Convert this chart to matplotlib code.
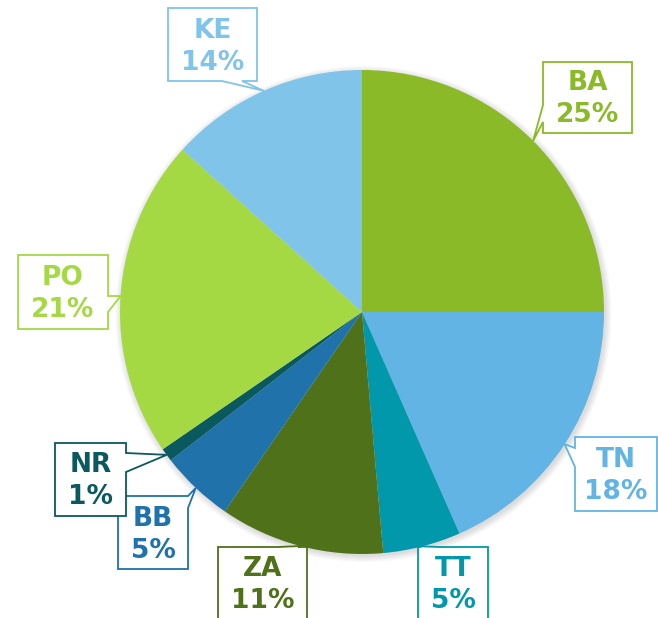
import matplotlib.pyplot as plt
from matplotlib.patches import Polygon, Circle
import numpy as np

W, H = 658, 618

labels = ["BA", "TN", "TT", "ZA", "BB", "NR", "PO", "KE"]
shares = [25.0, 18.4, 5.2, 11.0, 4.9, 0.9, 21.3, 13.3]
pct_text = ["25%", "18%", "5%", "11%", "5%", "1%", "21%", "14%"]
colors = ["#8aba28", "#62b4e4", "#0098aa", "#4f7119", "#1f72aa",
          "#09595e", "#a4d944", "#80c4ea"]

# callout boxes in pixel coords (x0, y0, x1, y1, y down), side of the notch, notch span
boxes = {
    "BA": ((543, 62, 632, 133), "left", (105, 122)),
    "TN": ((575, 437, 657, 511), "left", (448, 467)),
    "TT": ((418, 547, 488, 640), "top", (420, 440)),
    "ZA": ((218, 547, 307, 640), "top", (278, 298)),
    "BB": ((118, 496, 188, 569), "right", (496, 508)),
    "NR": ((55, 443, 126, 516), "right", (453, 472)),
    "PO": ((18, 255, 108, 329), "right", (296, 312)),
    "KE": ((168, 8, 257, 81), "bottom", (222, 242)),
}

cx, cy, R = 362, 312, 242

fig = plt.figure(figsize=(W / 100, H / 100), dpi=100)
ax = fig.add_axes([0, 0, 1, 1])

# soft shadow around the pie
for i in range(7):
    ax.add_patch(Circle((cx + 1.5, H - cy - 2), R + i, color="#707070",
                        alpha=0.035, lw=0, zorder=0))

wedges, _ = ax.pie(shares, colors=colors, startangle=90, counterclock=False,
                   center=(cx, H - cy), radius=R, wedgeprops=dict(linewidth=0))
for w in wedges:
    w.set_zorder(1)


def callout(box, side, span, tip):
    x0, y0, x1, y1 = box
    a, b = span
    if side == "left":
        pts = [(x0, y0), (x1, y0), (x1, y1), (x0, y1), (x0, b), tip, (x0, a)]
    elif side == "right":
        pts = [(x0, y0), (x1, y0), (x1, a), tip, (x1, b), (x1, y1), (x0, y1)]
    elif side == "top":
        pts = [(x0, y0), (a, y0), tip, (b, y0), (x1, y0), (x1, y1), (x0, y1)]
    else:
        pts = [(x0, y0), (x1, y0), (x1, y1), (b, y1), tip, (a, y1), (x0, y1)]
    return [(x, H - y) for x, y in pts]


for w, lab, pct, col in zip(wedges, labels, pct_text, colors):
    mid = np.deg2rad((w.theta1 + w.theta2) / 2)
    tip = (cx + R * np.cos(mid), cy - R * np.sin(mid))
    box, side, span = boxes[lab]
    ax.add_patch(Polygon(callout(box, side, span, tip), closed=True, facecolor="white",
                         edgecolor=col, linewidth=1.3, zorder=3))
    x0, y0, x1, y1 = box
    tx = (x0 + x1) / 2
    ty = (y0 + y1) / 2 + 2 if y1 < H else y0 + 38
    ax.text(tx, H - ty, f"{lab}\n{pct}", ha="center", va="center", color=col,
            fontsize=19, fontweight="bold", linespacing=1.3, zorder=4)

ax.set_xlim(0, W)
ax.set_ylim(0, H)
ax.set_aspect("auto")
ax.axis("off")

fig.savefig("out.png", dpi=100)
